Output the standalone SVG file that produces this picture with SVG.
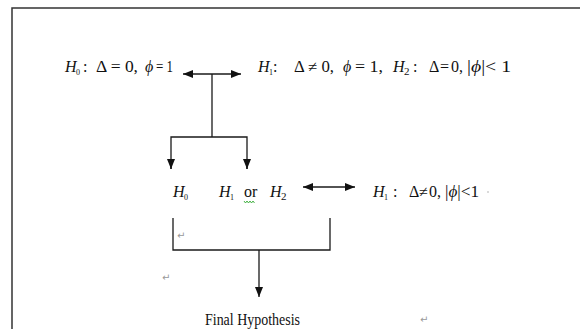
<svg xmlns="http://www.w3.org/2000/svg" width="580" height="329" viewBox="0 0 580 329">
<style>
.t{font-family:"Liberation Serif","Times New Roman",serif;font-size:16px;fill:#111}
.i{font-style:italic}
.s{font-family:"Liberation Serif","Times New Roman",serif;font-size:8px;fill:#111}
.s2{font-family:"Liberation Serif","Times New Roman",serif;font-size:11px;fill:#111}
.ln{stroke:#1a1a1a;stroke-width:1.3;fill:none}
.pm{font-family:"DejaVu Sans",sans-serif;font-size:10px;fill:#999}
</style>
<defs>
<marker id="ah" viewBox="0 0 10 8" refX="10" refY="4" markerWidth="10" markerHeight="8" markerUnits="userSpaceOnUse" orient="auto-start-reverse">
<path d="M0,0 L10,4 L0,8 z" fill="#111"/>
</marker>
</defs>
<rect width="580" height="329" fill="#fff"/>
<path d="M12,329 V8 H580" stroke="#333" stroke-width="1.5" fill="none"/>

<g id="h0-top">
<text class="t i" x="65" y="72">H</text>
<text class="s" x="76" y="75">0</text>
<text class="t" x="83" y="72">:</text>
<text class="t" x="96" y="72" textLength="42" lengthAdjust="spacingAndGlyphs">Δ = 0,</text>
<text class="t i" x="145" y="72">ϕ</text>
<text class="t" x="156" y="72" textLength="17" lengthAdjust="spacingAndGlyphs">= 1</text>
</g>

<g id="alt-top">
<text class="t i" x="258" y="72">H</text>
<text class="s" x="269" y="75">1</text>
<text class="t" x="273" y="72">:</text>
<text class="t" x="294" y="72" textLength="40" lengthAdjust="spacingAndGlyphs">Δ ≠ 0,</text>
<text class="t i" x="343" y="72">ϕ</text>
<text class="t" x="355" y="72" textLength="28" lengthAdjust="spacingAndGlyphs">= 1,</text>
<text class="t i" x="393" y="72">H</text>
<text class="s2" x="404" y="75">2</text>
<text class="t" x="413" y="72">:</text>
<text class="t" x="429" y="72">Δ</text>
<text class="t" x="440" y="72">=</text>
<text class="t" x="451" y="72">0,</text>
<text class="t" x="467" y="72" textLength="44" lengthAdjust="spacingAndGlyphs">|<tspan class="i">ϕ</tspan>|&lt; 1</text>
</g>

<g id="h0">
<text class="t i" x="173" y="197">H</text>
<text class="s" x="184" y="200">0</text>
</g>

<g id="h1-or-h2">
<text class="t i" x="219" y="197">H</text>
<text class="s" x="230" y="200">1</text>
<text class="t" x="244" y="197" font-size="13">or</text>
<path d="M244,201 l1.5,2 l1.5,-2 l1.5,2 l1.5,-2 l1.5,2 l1.5,-2 l1.5,2" stroke="#3a3" stroke-width="0.9" fill="none"/>
<text class="t i" x="270" y="197">H</text>
<text class="s2" x="281" y="200">2</text>
</g>

<g id="h1-right">
<text class="t i" x="373" y="197">H</text>
<text class="s" x="384" y="200">1</text>
<text class="t" x="393" y="197">:</text>
<text class="t" x="409" y="197">Δ</text>
<text class="t" x="419" y="197">≠</text>
<text class="t" x="429" y="197">0,</text>
<text class="t" x="445" y="197" textLength="34" lengthAdjust="spacingAndGlyphs">|<tspan class="i">ϕ</tspan>|&lt;1</text>
<circle cx="488" cy="192" r="0.8" fill="#aaa"/>
</g>

<g id="final">
<text class="t" x="205" y="325" font-size="16" textLength="95" lengthAdjust="spacingAndGlyphs">Final Hypothesis</text>
</g>

<g id="marks">
<text class="pm" x="177" y="239">↵</text>
<text class="pm" x="162" y="281">↵</text>
<text class="pm" x="420" y="323">↵</text>
</g>

<g id="connectors">
<line class="ln" x1="183" y1="74" x2="241" y2="74" marker-start="url(#ah)" marker-end="url(#ah)"/>
<line class="ln" x1="212" y1="74" x2="212" y2="137"/>
<path class="ln" d="M171,169 V137 H247 V169"/>
<line class="ln" x1="171" y1="160" x2="171" y2="169" marker-end="url(#ah)"/>
<line class="ln" x1="247" y1="160" x2="247" y2="169" marker-end="url(#ah)"/>
<line class="ln" x1="303" y1="187" x2="355" y2="187" marker-start="url(#ah)" marker-end="url(#ah)"/>
<path class="ln" d="M173,218 V250 H330 V218"/>
<line class="ln" x1="259" y1="250" x2="259" y2="297" marker-end="url(#ah)"/>
</g>
</svg>
